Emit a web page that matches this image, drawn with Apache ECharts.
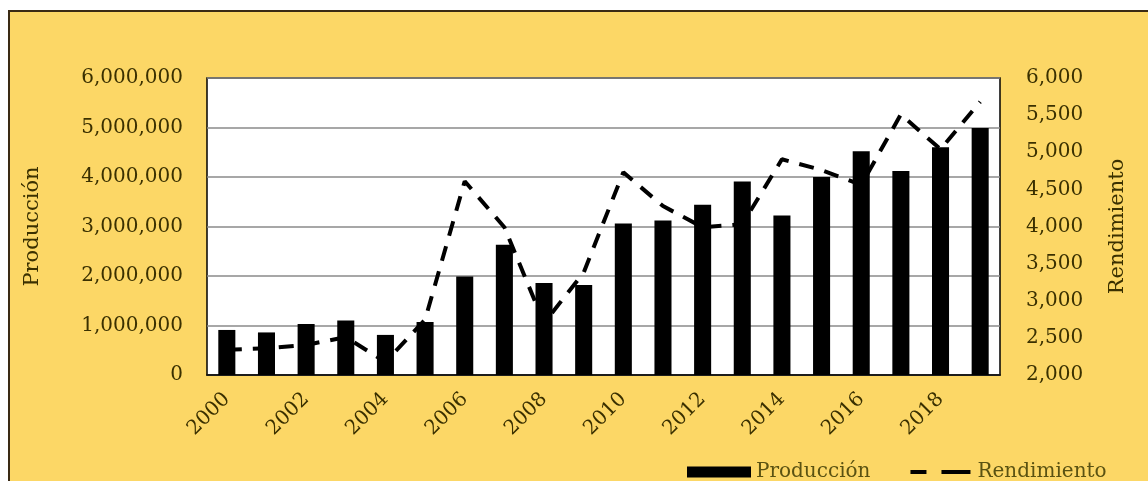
<!DOCTYPE html>
<html>
<head>
<meta charset="utf-8">
<script src="https://cdn.jsdelivr.net/npm/echarts@6/dist/echarts.min.js"></script>
<style>
  html, body { margin: 0; padding: 0; background: #ffffff; }
  #box { position: absolute; left: 8px; top: 10px; width: 1150px; height: 480px;
         background: #FCD766; border-top: 2px solid #3a2a14; border-left: 2px solid #3a2a14; }
  #chart { position: absolute; left: 0; top: 0; width: 1148px; height: 481px; }
</style>
</head>
<body>
<div id="box"></div>
<div id="chart"></div>
<script>
const years = ['2000','2001','2002','2003','2004','2005','2006','2007','2008','2009',
               '2010','2011','2012','2013','2014','2015','2016','2017','2018','2019'];
const produccion = [910000, 860000, 1030000, 1100000, 810000, 1070000, 1990000, 2630000, 1860000, 1820000,
                    3060000, 3120000, 3440000, 3910000, 3220000, 4000000, 4520000, 4120000, 4600000, 4990000];
const rendimiento = [2340, 2360, 2405, 2510, 2175, 2745, 4610, 3990, 2700, 3380,
                     4730, 4275, 3990, 4030, 4905, 4760, 4560, 5510, 5040, 5680];
const leftTicks = { min: 0, max: 6000000, interval: 1000000 };
const rightTicks = { min: 2000, max: 6000, interval: 500 };

const FONT = 'DejaVu Serif';
const TXT = '#3a3000';
const chart = echarts.init(document.getElementById('chart'), null, { renderer: 'canvas' });
const fmt = v => Number(v).toLocaleString('en-US');
const dashIcon = 'path://M0,0h0.01v0.01h-0.01z M0,3.5h16v4h-16z M31,3.5h29v4h-29z M59.99,10.99h0.01v0.01h-0.01z';

chart.setOption({
  backgroundColor: 'transparent',
  animation: false,
  grid: { left: 207, right: 148, top: 78, bottom: 106, show: true,
          backgroundColor: '#ffffff', borderColor: '#000000', borderWidth: 1.5 },
  legend: {
    left: 682, top: 457, itemWidth: 64, itemHeight: 11, itemGap: 40,
    textStyle: { fontFamily: FONT, fontSize: 20, color: '#5a5212' },
    data: [
      { name: 'Producción', icon: 'rect' },
      { name: 'Rendimiento', icon: dashIcon, itemStyle: { color: '#000000' } }
    ]
  },
  xAxis: {
    type: 'category', data: years,
    axisLine: { lineStyle: { color: '#000', width: 1.5 } },
    axisTick: { show: false },
    axisLabel: { interval: 1, rotate: 45, margin: 21,
                 fontFamily: FONT, fontSize: 20, color: TXT }
  },
  yAxis: [
    { type: 'value', min: leftTicks.min, max: leftTicks.max, interval: leftTicks.interval,
      name: 'Producción', nameLocation: 'middle', nameGap: 164, nameRotate: 90,
      nameTextStyle: { fontFamily: FONT, fontSize: 21, color: TXT },
      axisLine: { show: false }, axisTick: { show: false },
      axisLabel: { formatter: fmt, margin: 24, fontFamily: FONT, fontSize: 20, color: TXT },
      splitLine: { lineStyle: { color: '#8a8a8a', width: 1.5 } } },
    { type: 'value', min: rightTicks.min, max: rightTicks.max, interval: rightTicks.interval,
      name: 'Rendimiento', nameLocation: 'middle', nameGap: 107, nameRotate: 90,
      nameTextStyle: { fontFamily: FONT, fontSize: 21, color: TXT },
      axisLine: { show: false }, axisTick: { show: false },
      axisLabel: { formatter: fmt, margin: 26, fontFamily: FONT, fontSize: 20, color: TXT },
      splitLine: { show: false } }
  ],
  series: [
    { name: 'Producción', type: 'bar', data: produccion, barWidth: '43%',
      itemStyle: { color: '#000000' } },
    { name: 'Rendimiento', type: 'line', yAxisIndex: 1, data: rendimiento,
      symbol: 'none', z: 3,
      itemStyle: { color: '#000000' },
      lineStyle: { color: '#000000', width: 4, type: [15, 11] } }
  ]
});
</script>
</body>
</html>
